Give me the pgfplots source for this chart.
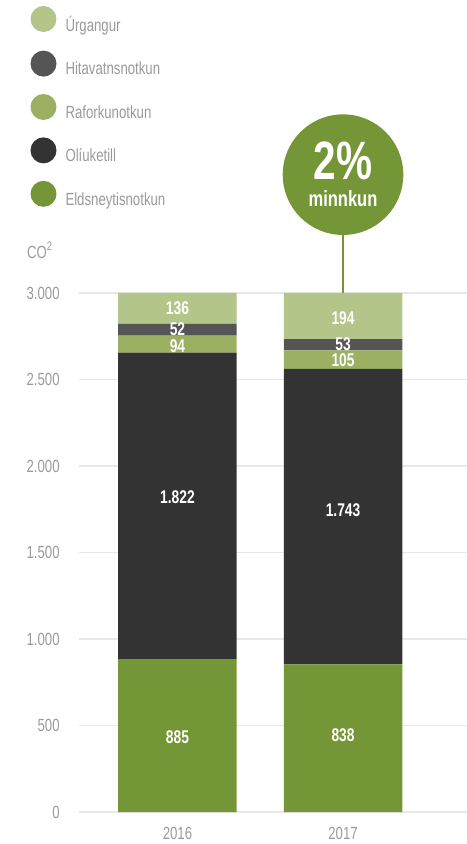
\documentclass[border=0pt]{standalone}
\usepackage{pgfplots}
\pgfplotsset{compat=1.18}
\usepackage{pgfplotstable}
\usepackage{fontspec}
\setmainfont{Liberation Sans}[FakeStretch=0.75]
\definecolor{cUrg}{HTML}{B4C589}
\definecolor{cHit}{HTML}{555555}
\definecolor{cRaf}{HTML}{9BB062}
\definecolor{cOli}{HTML}{333333}
\definecolor{cEld}{HTML}{759636}
\definecolor{cTxt}{HTML}{9A9A9A}
\definecolor{cGrid}{HTML}{E8E8E8}

% x = category, h = drawn height, lab = printed value, off = label nudge from segment middle (pt)
\pgfplotstableread{
x h lab off
0 883 885 -0.7
1 853 838 1.5
}\tEld
\pgfplotstableread{
x h lab off
0 1772 1.822 4.65
1 1709 1.743 3.25
}\tOli
\pgfplotstableread{
x h lab off
0 98 94 -0.75
1 106 105 -0.5
}\tRaf
\pgfplotstableread{
x h lab off
0 69 52 0.3
1 66 53 0.4
}\tHit
\pgfplotstableread{
x h lab off
0 178 136 0
1 266 194 -1
}\tUrg

\pgfplotsset{
  seg/.style={
    fill=#1, draw=none,
    nodes near coords,
    point meta=explicit symbolic,
    visualization depends on={\thisrow{off}\as\offs},
    every node near coord/.append style={anchor=center, inner sep=0pt,
      text=white, font=\fontsize{9.2bp}{10bp}\selectfont\bfseries,
      yshift=\offs},
  }
}

\begin{document}
\begin{tikzpicture}
\useasboundingbox (0,0) rectangle (233.5bp,422bp);
\begin{axis}[
  at={(39.5bp,16bp)}, anchor=south west,
  scale only axis, width=194bp, height=259.5bp,
  xmin=-0.595, xmax=1.749, ymin=0, ymax=3000,
  ybar stacked, bar width=59.25bp,
  every axis plot post/.append style={
    legend image code/.code={\fill[##1, draw=none] (6.5bp,3.15bp) circle[radius=6.5bp];}},
  axis line style={draw=none}, major tick length=0pt,
  ymajorgrids, grid style={cGrid, line width=0.6bp},
  xtick={0,1}, xticklabels={2016,2017},
  ytick={0,500,...,3000},
  /pgf/number format/assume math mode=true,
  /pgf/number format/1000 sep={.},
  tick label style={font=\fontsize{8.8bp}{10bp}\selectfont, text=cTxt, inner sep=0pt},
  yticklabel style={anchor=east, xshift=-9.5bp},
  xticklabel style={anchor=north, yshift=-7.5bp},
  ylabel={CO\textsuperscript{2}},
  ylabel style={rotate=-90, at={(axis description cs:-0.1348,1.0665)}, anchor=base west,
    inner sep=0pt, font=\fontsize{8.8bp}{10bp}\selectfont, text=cTxt},
  clip=false,
  reverse legend,
  legend cell align=left,
  legend style={at={(axis description cs:-0.125,1.553)}, anchor=north west,
    draw=none, fill=none, inner sep=0pt, outer sep=0pt,
    row sep=8.1bp, column sep=4.5bp,
    nodes={inner sep=0pt, text=cTxt, font=\fontsize{8.8bp}{10bp}\selectfont}},
]
\addplot[seg=cEld] table[x=x, y=h, meta=lab] {\tEld};
\addlegendentry{Eldsneytisnotkun}
\addplot[seg=cOli] table[x=x, y=h, meta=lab] {\tOli};
\addlegendentry{Olíuketill}
\addplot[seg=cRaf] table[x=x, y=h, meta=lab] {\tRaf};
\addlegendentry{Raforkunotkun}
\addplot[seg=cHit] table[x=x, y=h, meta=lab] {\tHit};
\addlegendentry{Hitavatnsnotkun}
\addplot[seg=cUrg] table[x=x, y=h, meta=lab] {\tUrg};
\addlegendentry{Úrgangur}

\coordinate (btop) at (axis cs:1,3000);
\coordinate (cc) at (axis cs:1,3684);
\end{axis}
\draw[cEld, line width=1bp] (btop) -- (cc);
\fill[cEld] (cc) circle[radius=30.15bp];
\node[anchor=base, yshift=-2.3bp, text=white, inner sep=0pt,
  font=\fontsize{27bp}{27bp}\selectfont\bfseries] at (cc) {2\%};
\node[anchor=base, yshift=-16bp, text=white, inner sep=0pt,
  font=\fontsize{11bp}{11bp}\selectfont\bfseries] at (cc) {minnkun};
\end{tikzpicture}
\end{document}
